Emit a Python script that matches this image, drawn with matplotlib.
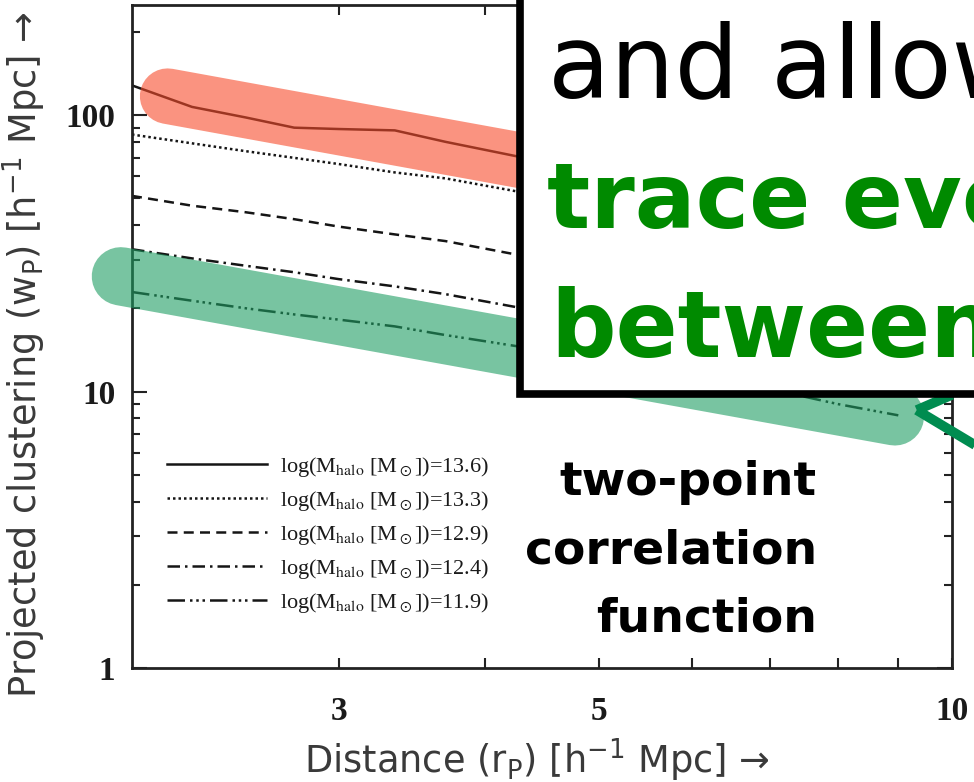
import matplotlib
matplotlib.use("Agg")
import matplotlib.pyplot as plt
from matplotlib.patches import Rectangle
from matplotlib.ticker import FixedLocator, NullFormatter, LogLocator

plt.rcParams["mathtext.fontset"] = "stix"

# projected separation r_p [h^-1 Mpc]
r = [2.0, 2.25, 2.5, 2.75, 3.0, 3.35, 3.7, 4.25, 5.0, 6.0, 7.0, 8.0, 9.0]

# w_p for each halo mass bin
wp_136 = [128, 107, 98, 90, 89, 88, 80, 71, 64, 56, 50, 46, 42]
wp_133 = [85, 79, 74, 70, 66.5, 62, 59, 53, 48, 43, 39.5, 36.5, 34]
wp_129 = [51, 47, 44.5, 42, 39.5, 37, 35, 31.3, 28.5, 25.5, 23.5, 21.8, 20.5]
wp_124 = [32.7, 30.3, 28.5, 27, 25.5, 24, 22.5, 20.2, 18.3, 16.3, 15, 14, 13]
wp_119 = [22.9, 21.3, 20, 19, 18.2, 17.2, 16, 14.6, 13.1, 11.5, 10.2, 9.0, 8.2]

masses = ["13.6", "13.3", "12.9", "12.4", "11.9"]
styles = ["-", (0, (1, 1.2)), (0, (4, 2.5)), (0, (5, 2, 1, 2)),
          (0, (7, 2, 1, 1.5, 1, 1.5, 1, 2))]

# highlight bands (end points)
red_r, red_wp = [2.145, 8.94], [117, 38.9]
green_r, green_wp = [1.957, 8.94], [26.1, 8.13]

fig = plt.figure(figsize=(9.74, 7.82), dpi=100)
ax = fig.add_axes([0.1355, 0.1458, 0.8419, 0.8478])

for wp, m, ls in zip([wp_136, wp_133, wp_129, wp_124, wp_119], masses, styles):
    ax.plot(r, wp, color="#151515", lw=1.8, linestyle=ls,
            label=r"log(M$_{\rm halo}$ [M$_\odot$])=" + m + ")")

ax.plot(red_r, red_wp, color="#F74C2B", alpha=0.6, lw=40,
        solid_capstyle="round", zorder=3)
ax.plot(green_r, green_wp, color="#1E9D62", alpha=0.6, lw=42,
        solid_capstyle="round", zorder=3, clip_on=False)

# green pointer arrow
arrow_kw = dict(color="#008C50", lw=7, transform=ax.transAxes,
                clip_on=False, zorder=4, solid_capstyle="butt")
ax.plot([1.05, 0.957], [0.32, 0.389], **arrow_kw)
ax.plot([0.957, 1.0], [0.389, 0.412], **arrow_kw)

ax.set_xscale("log")
ax.set_yscale("log")
ax.set_xlim(2, 10)
ax.set_ylim(1, 250)

ax.xaxis.set_major_locator(FixedLocator([3, 5, 10]))
ax.xaxis.set_minor_locator(FixedLocator([4, 6, 7, 8, 9]))
ax.set_xticklabels(["3", "5", "10"])
ax.xaxis.set_minor_formatter(NullFormatter())
ax.yaxis.set_major_locator(FixedLocator([1, 10, 100]))
ax.yaxis.set_minor_locator(LogLocator(base=10, subs=range(2, 10)))
ax.set_yticklabels(["1", "10", "100"])
ax.yaxis.set_minor_formatter(NullFormatter())

ax.tick_params(which="both", direction="in", top=True, right=True,
               width=1.5, color="#222222")
ax.tick_params(axis="y", which="major", length=11, pad=12)
ax.tick_params(axis="y", which="minor", length=6)
ax.tick_params(axis="x", which="both", length=7, pad=20)
for lab in ax.get_xticklabels() + ax.get_yticklabels():
    lab.set_fontfamily("Liberation Serif")
    lab.set_fontsize(24)
    lab.set_fontweight("bold")
    lab.set_color("#1a1a1a")
for sp in ax.spines.values():
    sp.set_linewidth(2)
    sp.set_color("#222222")

ax.set_xlabel(r"Distance (r$\mathregular{_P}$) [h$\mathregular{^{-1}}$ Mpc] →",
              fontsize=26.5, color="#3a3a3a")
ax.set_ylabel(r"Projected clustering (w$\mathregular{_P}$) [h$\mathregular{^{-1}}$ Mpc] →",
              fontsize=26.5, color="#3a3a3a")
ax.xaxis.set_label_coords(0.494, -0.103)
ax.yaxis.set_label_coords(-0.103, 0.472)

leg = ax.legend(loc="upper left", bbox_to_anchor=(0.0427, 0.322), frameon=False,
                borderpad=0, borderaxespad=0, handlelength=4.5,
                handletextpad=0.6, labelspacing=0.45,
                prop={"family": "Liberation Serif", "size": 16})
for t in leg.get_texts():
    t.set_color("#1a1a1a")

for line, y in zip(["two-point", "correlation", "function"], [0.367, 0.280, 0.193]):
    fig.text(0.8388, y, line, ha="right", va="baseline", fontsize=34,
             fontweight="bold", color="black")

# overlaid white text box
box = Rectangle((0.5334, 0.4968), 0.6, 0.6, transform=fig.transFigure,
                facecolor="white", edgecolor="black", lw=5.5, zorder=5)
fig.add_artist(box)
fig.text(0.5626, 0.876, "and allow", fontsize=73, color="black",
         va="baseline", ha="left", zorder=6)
fig.text(0.5616, 0.709, "trace eve", fontsize=65, fontweight="bold",
         color="#008A00", va="baseline", ha="left", zorder=6)
fig.text(0.5647, 0.5435, "between", fontsize=66, fontweight="bold",
         color="#008A00", va="baseline", ha="left", zorder=6)

fig.savefig("out.png", dpi=100)
